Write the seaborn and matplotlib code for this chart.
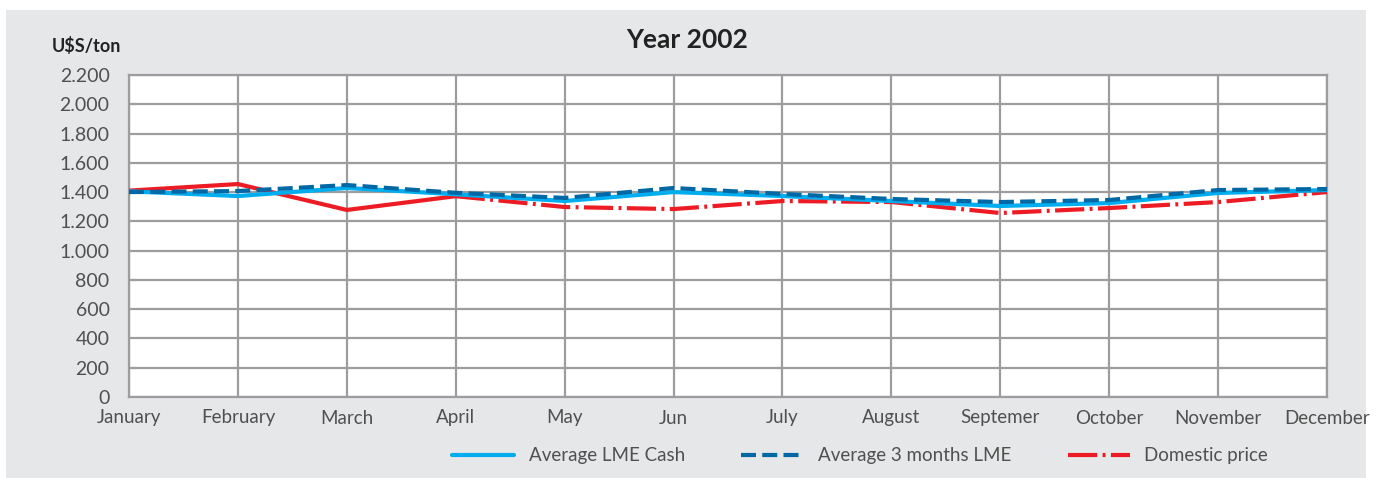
import matplotlib
matplotlib.use('Agg')
import matplotlib.pyplot as plt
import matplotlib.patches as mpatches
import matplotlib.ticker as mticker
import seaborn as sns
import pandas as pd

months = ['January', 'February', 'March', 'April', 'May', 'Jun', 'July',
          'August', 'Septemer', 'October', 'November', 'December']
lme_cash = [1405, 1373, 1428, 1385, 1339, 1400, 1373, 1339, 1305, 1325, 1394, 1414]
lme_3m = [1400, 1407, 1448, 1395, 1360, 1428, 1387, 1353, 1332, 1346, 1414, 1421]
domestic = [1410, 1455, 1278, 1372, 1298, 1284, 1339, 1332, 1257, 1291, 1332, 1400]
yticks = [0, 200, 400, 600, 800, 1000, 1200, 1400, 1600, 1800, 2000, 2200]

sns.set_style('white')
plt.rcParams['font.family'] = ['Lato', 'DejaVu Sans']

df = pd.DataFrame({'month': months, 'cash': lme_cash,
                   '3m': lme_3m, 'dom': domestic})
df['x'] = range(len(months))

fig = plt.figure(figsize=(13.78, 4.78), dpi=100)
fig.patch.set_facecolor('white')
# grey panel behind the chart
fig.patches.append(mpatches.Rectangle((6 / 1378, 0), 1360 / 1378, 468 / 478,
                                      transform=fig.transFigure,
                                      facecolor='#e6e7e8', edgecolor='none',
                                      zorder=-10))
ax = fig.add_axes([129 / 1378, 1 - 397 / 478, 1198 / 1378, 322 / 478])
ax.set_facecolor('white')

lw = 3
# domestic price: solid until April, dash-dot afterwards
sns.lineplot(data=df.iloc[:4], x='x', y='dom', ax=ax, color='#ed1c24',
             lw=lw, zorder=3)
sns.lineplot(data=df.iloc[3:], x='x', y='dom', ax=ax, color='#ed1c24',
             lw=lw, dashes=False, zorder=3, label='Domestic price')
ax.lines[-1].set_dashes([7, 1.3, 0.7, 1.3])
sns.lineplot(data=df, x='x', y='cash', ax=ax, color='#00aeef', lw=lw,
             zorder=4, label='Average LME Cash')
sns.lineplot(data=df, x='x', y='3m', ax=ax, color='#0068a5', lw=lw,
             zorder=5, label='Average 3 months LME')
ax.lines[-1].set_dashes([3.6, 1.5])

txt = '#505050'
ax.set_xlim(0, len(months) - 1)
ax.set_ylim(0, 2200)
ax.set_xticks(df['x'])
ax.set_xticklabels(months, fontsize=13.5, color=txt)
ax.set_yticks(yticks)
ax.yaxis.set_major_formatter(mticker.FuncFormatter(
    lambda v, p: f'{int(v):,}'.replace(',', '.')))
ax.tick_params(axis='y', labelsize=14, labelcolor=txt, direction='inout',
               length=8, width=1.5, color='#222222', pad=10)
ax.tick_params(axis='x', length=0, pad=9)
ax.grid(True, color='#9d9d9f', lw=1.6)
for s in ax.spines.values():
    s.set_color('#9d9d9f')
    s.set_linewidth(1.6)
ax.set_xlabel('')
ax.set_ylabel('')
ax.get_legend().remove()

handles, labels = ax.get_legend_handles_labels()
order = [labels.index(n) for n in ['Average LME Cash', 'Average 3 months LME', 'Domestic price']]
leg = fig.legend([handles[i] for i in order], [labels[i] for i in order],
                 loc='center', bbox_to_anchor=(860 / 1378, 1 - 456 / 478),
                 ncol=3, frameon=False, fontsize=13.5, handlelength=3.3,
                 columnspacing=3, handletextpad=0.8)
for t in leg.get_texts():
    t.set_color(txt)

fig.text(687 / 1378, 1 - 40 / 478, 'Year 2002', ha='center', va='center',
         fontsize=19, fontweight='bold', color='#222222')
fig.text(52 / 1378, 1 - 46 / 478, 'U$S/ton', ha='left', va='center',
         fontsize=13, fontweight='bold', color='#222222')

fig.savefig('out.png', dpi=100)
